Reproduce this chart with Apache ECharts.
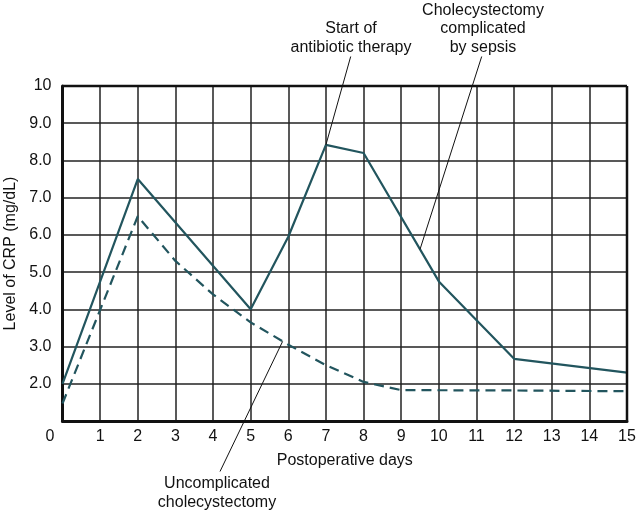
<!DOCTYPE html>
<html>
<head>
<meta charset="utf-8">
<script src="https://cdn.jsdelivr.net/npm/echarts@6/dist/echarts.min.js"></script>
<style>
html,body{margin:0;padding:0;background:#fff;}
#c{width:638px;height:512px;}
</style>
</head>
<body>
<div id="c"></div>
<script>
// Data
var days = [0,1,2,3,4,5,6,7,8,9,10,11,12,13,14,15];
var sepsisDays = [0, 2, 5, 6, 7, 8, 10, 12, 15];
var sepsisCRP = [2.0, 7.5, 4.0, 5.95, 8.42, 8.2, 4.75, 2.67, 2.3];
var uncompDays = [0, 2, 3, 4, 5, 6, 7, 8, 9, 12, 15];
var uncompCRP = [1.47, 6.5, 5.3, 4.4, 3.65, 3.05, 2.5, 2.05, 1.83, 1.82, 1.8];
var yTicks = [1,2,3,4,5,6,7,8,9,10];

var FONT = '"Liberation Sans", Arial, Helvetica, sans-serif';
var LINE = '#22555e';

function pairs(xs, ys){ return xs.map(function(x,i){ return [x, ys[i]]; }); }
function interp(xs, ys, x){
  for (var i=0;i<xs.length-1;i++){
    if (x>=xs[i] && x<=xs[i+1]){
      var t=(x-xs[i])/(xs[i+1]-xs[i]);
      return ys[i]+t*(ys[i+1]-ys[i]);
    }
  }
  return ys[ys.length-1];
}

var chart = echarts.init(document.getElementById('c'), null, {renderer:'canvas'});
var option = {
  animation:false,
  backgroundColor:'#fff',
  textStyle:{fontFamily:FONT},
  grid:{left:62.5, right:11, top:86, bottom:91, containLabel:false, outerBoundsMode:'none'},
  xAxis:{
    type:'value', min:0, max:15, interval:1,
    name:'Postoperative days', nameLocation:'middle', nameGap:32,
    nameTextStyle:{fontSize:16, color:'#111', fontFamily:FONT},
    axisLine:{show:true, onZero:false, lineStyle:{color:'#111', width:3}},
    axisTick:{show:false},
    axisLabel:{fontSize:16, color:'#111', margin:8, fontFamily:FONT,
      formatter:function(v){ return v===0 ? '' : String(v); }},
    splitLine:{show:true, lineStyle:{color:'#222', width:1.5}}
  },
  yAxis:{
    type:'value', min:1, max:10, interval:1,
    name:'Level of CRP (mg/dL)', nameLocation:'middle', nameGap:44,
    nameTextStyle:{fontSize:16, color:'#111', fontFamily:FONT},
    axisLine:{show:true, onZero:false, lineStyle:{color:'#111', width:3}},
    axisTick:{show:false},
    axisLabel:{fontSize:16, color:'#111', margin:11, fontFamily:FONT,
      formatter:function(v){ return v===1 ? '' : (v===10 ? '10' : v.toFixed(1)); }},
    splitLine:{show:true, lineStyle:{color:'#222', width:1.5}}
  },
  series:[
    {
      name:'Cholecystectomy complicated by sepsis', type:'line',
      data:pairs(sepsisDays, sepsisCRP), showSymbol:false, symbol:'none',
      lineStyle:{color:LINE, width:2.2}, z:5
    },
    {
      name:'Uncomplicated cholecystectomy', type:'line',
      data:pairs(uncompDays, uncompCRP), showSymbol:false, symbol:'none',
      lineStyle:{color:LINE, width:2.2, type:[10,6]}, z:5
    }
  ]
};
chart.setOption(option);

// Border top/right lines of frame
var tl = chart.convertToPixel({gridIndex:0}, [0, 10]);
var br = chart.convertToPixel({gridIndex:0}, [15, 1]);

// Annotation anchors (data coordinates)
var pAnti = chart.convertToPixel({gridIndex:0}, [7, 8.42]);
var sx = 9.5, pSeps = chart.convertToPixel({gridIndex:0}, [sx, interp(sepsisDays, sepsisCRP, sx)]);
var ux = 5.85, pUnc = chart.convertToPixel({gridIndex:0}, [ux, interp(uncompDays, uncompCRP, ux)]);

var txt = {fill:'#111', fontSize:16, fontFamily:FONT, textAlign:'center', lineHeight:18.5};
chart.setOption({
  graphic:[
    {type:'line', shape:{x1:tl[0], y1:tl[1], x2:br[0], y2:tl[1]}, style:{stroke:'#111', lineWidth:2.5}, z:10},
    {type:'line', shape:{x1:br[0], y1:tl[1], x2:br[0], y2:br[1]}, style:{stroke:'#111', lineWidth:2.5}, z:10},
    {type:'text', x:50, y:437, style:Object.assign({}, txt, {text:'0', textVerticalAlign:'middle'}), z:10},
    {type:'text', x:351, y:19, style:Object.assign({}, txt, {text:'Start of\nantibiotic therapy', textVerticalAlign:'top', lineHeight:19}), z:10},
    {type:'line', shape:{x1:350.7, y1:56.5, x2:pAnti[0], y2:pAnti[1]}, style:{stroke:'#111', lineWidth:1}, z:10},
    {type:'text', x:483, y:1, style:Object.assign({}, txt, {text:'Cholecystectomy\ncomplicated\nby sepsis', textVerticalAlign:'top'}), z:10},
    {type:'line', shape:{x1:481.7, y1:56.5, x2:pSeps[0], y2:pSeps[1]}, style:{stroke:'#111', lineWidth:1}, z:10},
    {type:'text', x:217, y:474.5, style:Object.assign({}, txt, {text:'Uncomplicated\ncholecystectomy', textVerticalAlign:'top'}), z:10},
    {type:'line', shape:{x1:220, y1:471.5, x2:pUnc[0], y2:pUnc[1]}, style:{stroke:'#111', lineWidth:1}, z:10}
  ]
});
</script>
</body>
</html>
